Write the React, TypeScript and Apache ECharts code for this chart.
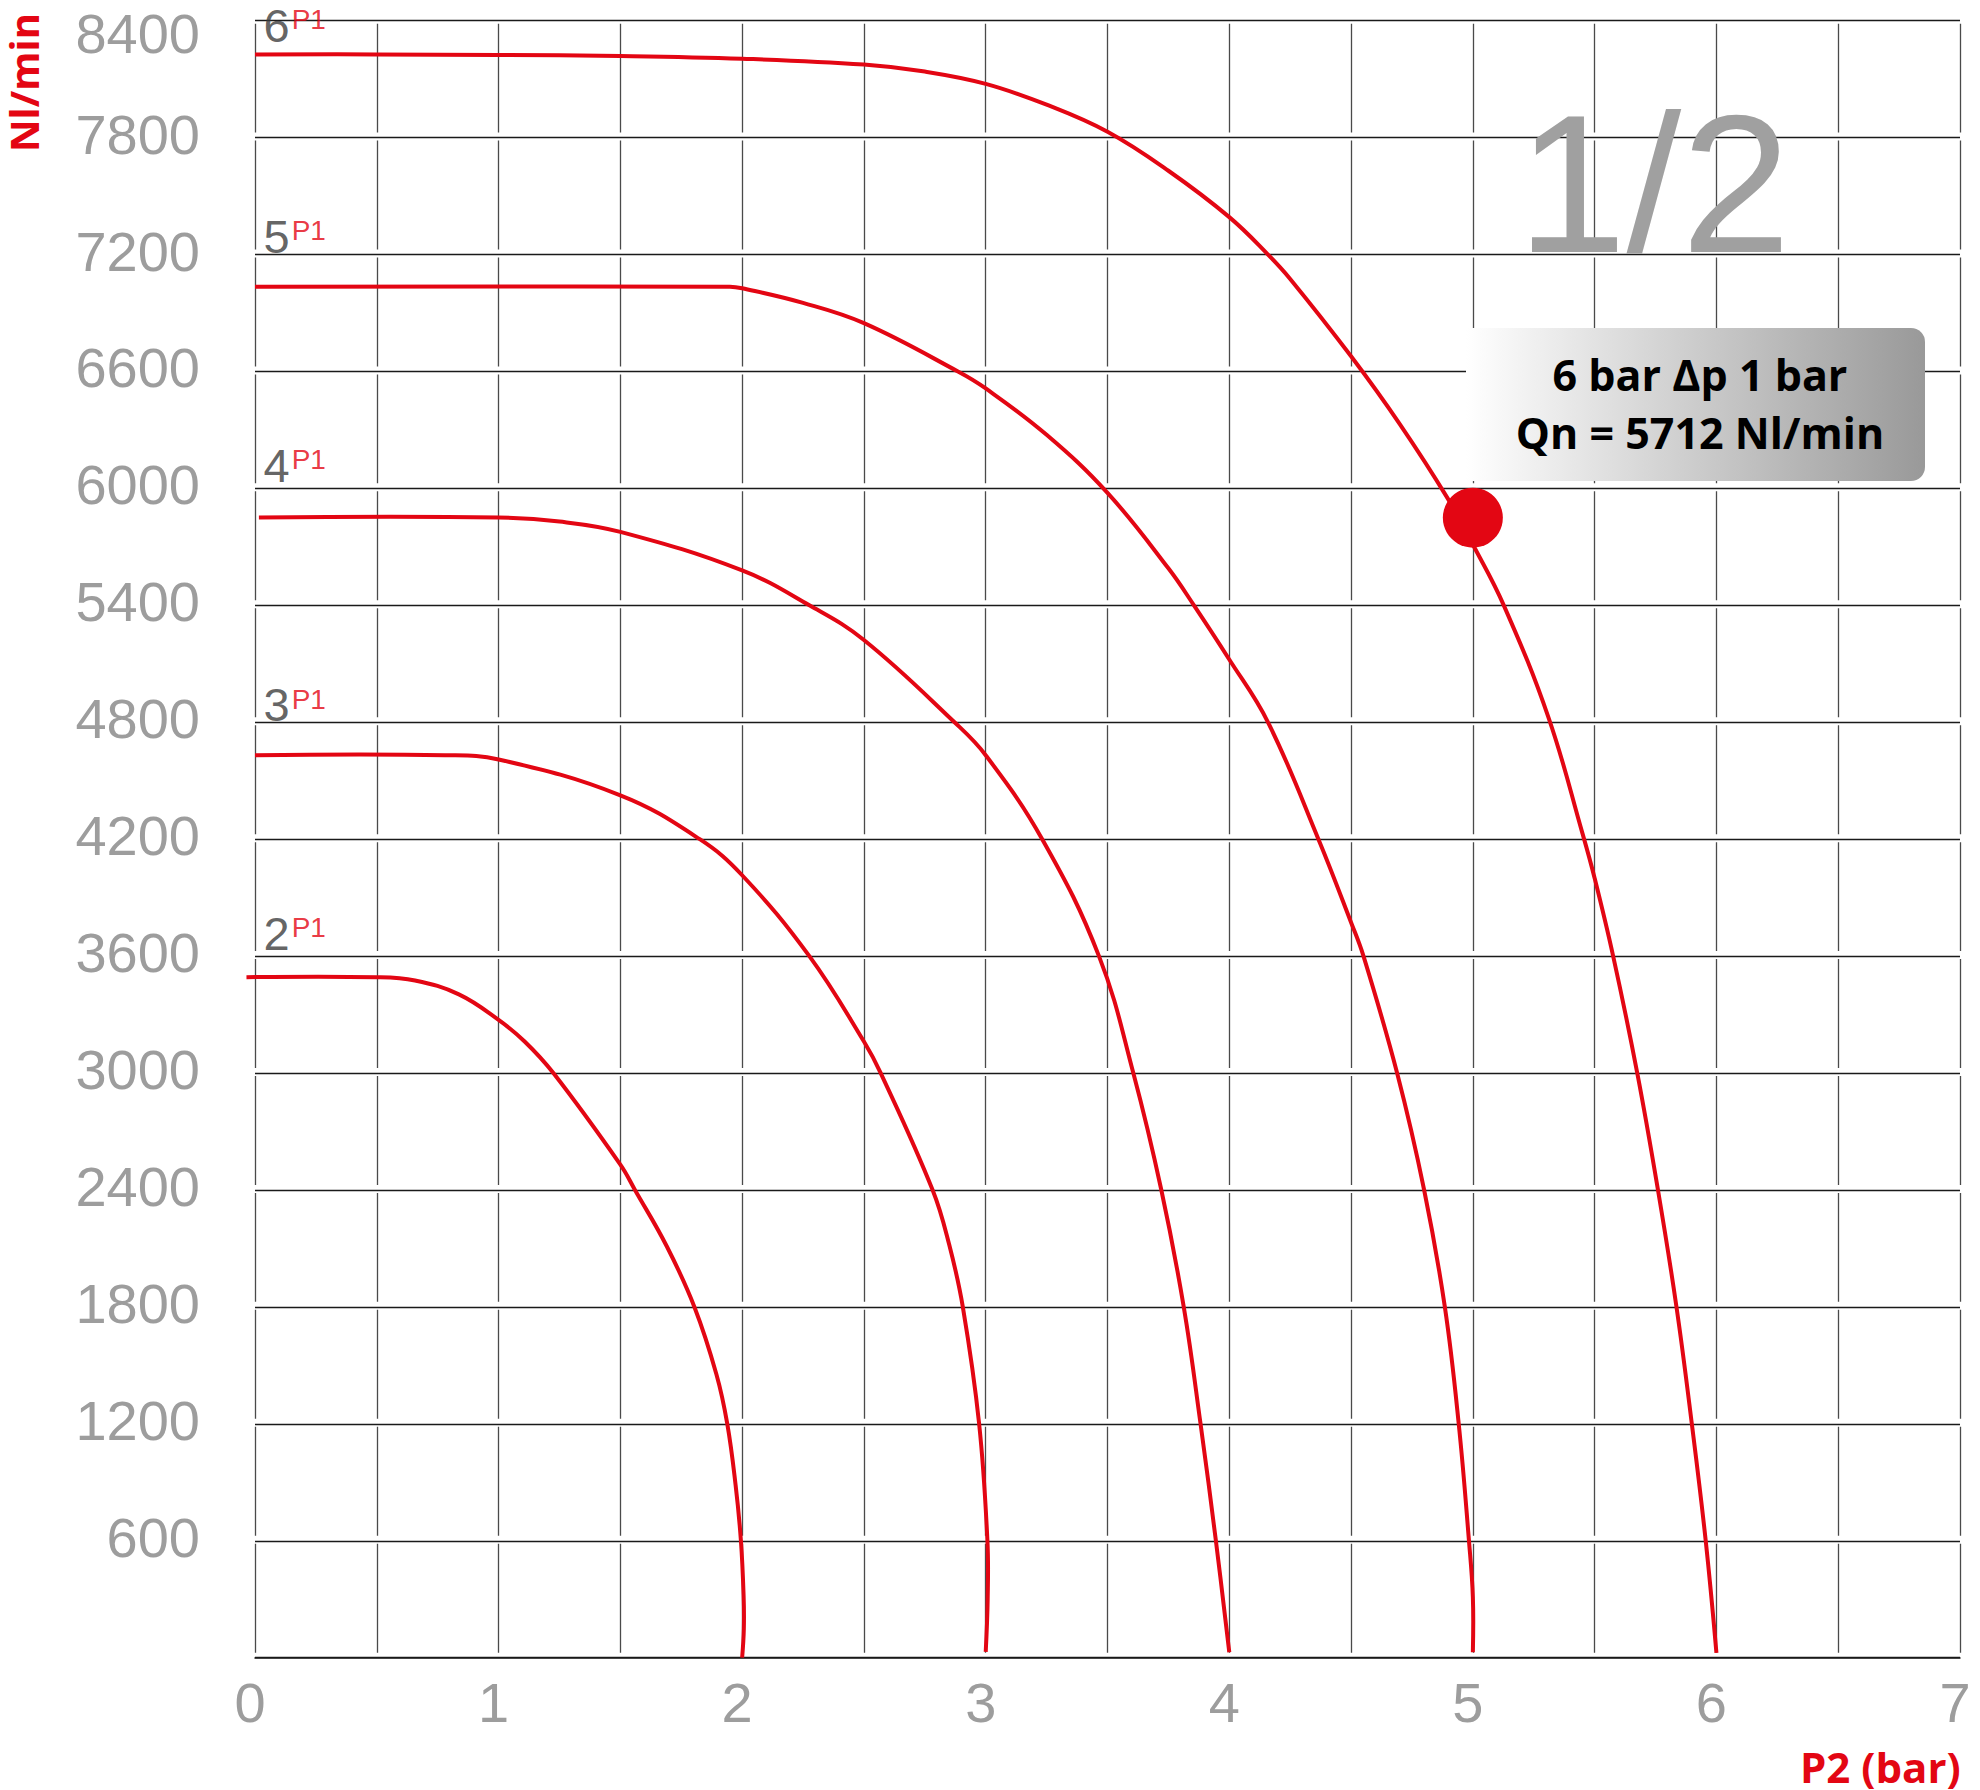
import React, { useEffect, useRef } from 'react';
import * as echarts from 'echarts';

const RED = '#e30613';
const GRAY_TXT = '#9d9d9d';
const NUM_FONT = '"Liberation Sans", Arial, sans-serif';
const BOLD_FONT = '"Open Sans", "Noto Sans", sans-serif';

// Axis ranges / ticks
const xMin = 0;
const xMax = 7;
const xStep = 0.5;
const yMin = 0;
const yMax = 8400;
const yStep = 600;

// Curves: P2 (bar) vs Qn (Nl/min), one per inlet pressure P1
const curveP1_2: [number, number][] = [
  [-0.035, 3492], [0.5, 3492], [0.657, 3475], [0.837, 3404], [1.0, 3273], [1.107, 3162],
  [1.225, 3000], [1.5, 2530], [1.56, 2400], [1.691, 2110], [1.804, 1800], [1.894, 1456],
  [1.939, 1200], [1.973, 887], [1.995, 600], [2.006, 318], [2.007, 150], [2.0, 0],
];
const curveP1_3: [number, number][] = [
  [0, 4631], [0.78, 4631], [1.0, 4609], [1.5, 4425], [1.826, 4200], [2.0, 4015],
  [2.276, 3600], [2.5, 3162], [2.569, 3000], [2.782, 2400], [2.85, 2120], [2.906, 1800],
  [2.973, 1200], [3.007, 600], [3.008, 300], [3.0, 30],
];
const curveP1_4: [number, number][] = [
  [0.016, 5851], [1.0, 5851], [1.25, 5830], [1.5, 5777], [2.0, 5579], [2.276, 5400],
  [2.5, 5222], [2.872, 4800], [3.0, 4631], [3.232, 4200], [3.465, 3600], [3.606, 3000],
  [3.721, 2400], [3.813, 1800], [3.882, 1200], [3.945, 600], [4.0, 28],
];
const curveP1_5: [number, number][] = [
  [0, 7035], [1.95, 7035], [2.0, 7027], [2.25, 6952], [2.5, 6848], [2.886, 6600],
  [3.0, 6513], [3.25, 6275], [3.5, 5977], [3.75, 5590], [3.855, 5400], [3.998, 5126],
  [4.159, 4800], [4.366, 4200], [4.5, 3773], [4.551, 3600], [4.689, 3000], [4.8, 2400],
  [4.885, 1800], [4.942, 1200], [4.984, 600], [5.0, 312], [5.0, 28],
];
const curveP1_6: [number, number][] = [
  [0, 8227], [0.5, 8227], [1.0, 8224], [1.5, 8219], [2.0, 8205], [2.5, 8175],
  [2.75, 8139], [3.0, 8076], [3.25, 7969], [3.5, 7830], [3.75, 7630], [4.0, 7392],
  [4.159, 7200], [4.25, 7075], [4.5, 6678], [4.7, 6330], [4.896, 5950], [5.0, 5712],
  [5.127, 5400], [5.311, 4823], [5.45, 4230], [5.5, 4000], [5.576, 3600], [5.675, 3000],
  [5.76, 2400], [5.836, 1800], [5.899, 1200], [5.956, 600], [6.0, 25],
];
const curves = [curveP1_2, curveP1_3, curveP1_4, curveP1_5, curveP1_6];

// Curve labels (P1 value) placed at the left of the chart
const curveNames = ['2', '3', '4', '5', '6'];
const curveLabelX = [0, 0, 0, 0, 0];
const curveLabelY = [3593, 4766, 5995, 7171, 8254];

// Highlighted operating point
const operatingPoint: [number, number] = [5, 5850];
const boxLine1 = '6 bar Δp 1 bar';
const boxLine2 = 'Qn = 5712 Nl/min';
const sizeText = '1/2';
const xName = 'P2 (bar)';
const yName = 'Nl/min';

export default function App() {
  const ref = useRef<HTMLDivElement>(null);

  useEffect(() => {
    if (!ref.current) return;
    const chart = echarts.init(ref.current, undefined, { renderer: 'svg' });

    // Each curve is drawn as one smooth polyline through its points (mapped by the axes' scales)
    const curveSeries = curves.map((data, i) => ({
      type: 'custom',
      name: 'P1 ' + curveNames[i],
      data,
      clip: false,
      z: 3,
      silent: true,
      encode: { x: 0, y: 1 },
      renderItem: (params: any, api: any) => {
        if (params.dataIndex !== 0) return null;
        const pts = data.map((d) => api.coord(d));
        return {
          type: 'polyline',
          shape: { points: pts, smooth: 0.4 },
          style: { stroke: RED, lineWidth: 4, fill: 'none', lineJoin: 'round', lineCap: 'butt' },
        };
      },
    }));

    chart.setOption({
      animation: false,
      backgroundColor: '#ffffff',
      grid: { left: 255, top: 20.7, width: 1705, height: 1637 },
      xAxis: {
        type: 'value',
        min: xMin,
        max: xMax,
        interval: xStep,
        axisLine: { show: true, lineStyle: { color: '#1a1a1a', width: 1.5 } },
        axisTick: { show: false },
        axisLabel: {
          formatter: (v: number) => (Number.isInteger(v) ? String(v) : ''),
          fontSize: 56,
          color: GRAY_TXT,
          fontFamily: NUM_FONT,
          margin: 17,
          padding: [0, 10, 0, 0],
        },
        splitLine: {
          show: true,
          lineStyle: { color: '#4a4a4a', width: 1.3, type: [108.93, 8], dashOffset: 113.93 },
        },
      },
      yAxis: {
        type: 'value',
        min: yMin,
        max: yMax,
        interval: yStep,
        axisLine: { show: false },
        axisTick: { show: false },
        axisLabel: {
          formatter: (v: number) => (v === yMin ? '' : v === yMax ? '{t|' + v + '}' : String(v)),
          fontSize: 56,
          color: GRAY_TXT,
          fontFamily: NUM_FONT,
          margin: 55,
          padding: [0, 0, 7, 0],
          rich: {
            t: { fontSize: 56, color: GRAY_TXT, fontFamily: NUM_FONT, padding: [32, 0, 0, 0] },
          },
        },
        splitLine: { show: true, lineStyle: { color: '#1a1a1a', width: 1.3 } },
      },
      series: [
        ...curveSeries,
        {
          type: 'scatter',
          name: 'labels',
          data: curveNames.map((n, i) => [curveLabelX[i], curveLabelY[i], n]),
          symbolSize: 1,
          itemStyle: { color: 'rgba(0,0,0,0)' },
          z: 4,
          emphasis: { disabled: true },
          label: {
            show: true,
            position: [9, 0],
            align: 'left',
            verticalAlign: 'bottom',
            formatter: (p: any) => '{n|' + p.value[2] + '}{p|P1}',
            rich: {
              n: { fontSize: 47, lineHeight: 47, color: '#3c3c3c', fontFamily: NUM_FONT, verticalAlign: 'bottom' },
              p: { fontSize: 28, lineHeight: 28, color: RED, fontFamily: NUM_FONT, verticalAlign: 'top', padding: [4, 0, 0, 2] },
            },
          },
        },
        {
          type: 'scatter',
          name: 'point',
          data: [operatingPoint],
          symbol: 'circle',
          symbolSize: 60,
          itemStyle: { color: RED, opacity: 1 },
          z: 5,
          emphasis: { disabled: true },
        },
      ],
      graphic: [
        {
          type: 'rect',
          z: 100,
          shape: { x: 1466, y: 328, width: 459, height: 153, r: [0, 14, 14, 0] },
          style: {
            fill: new echarts.graphic.LinearGradient(0, 0, 1, 0, [
              { offset: 0, color: '#ffffff' },
              { offset: 1, color: '#999999' },
            ]),
          },
        },
        {
          type: 'text',
          z: 101,
          x: 1700,
          y: 374,
          style: {
            text: boxLine1,
            fontSize: 43,
            fontWeight: 'bold',
            fontFamily: BOLD_FONT,
            fill: '#000000',
            align: 'center',
            verticalAlign: 'middle',
            textAlign: 'center',
            textVerticalAlign: 'middle',
          },
        },
        {
          type: 'text',
          z: 101,
          x: 1700,
          y: 432,
          style: {
            text: boxLine2,
            fontSize: 43,
            fontWeight: 'bold',
            fontFamily: BOLD_FONT,
            fill: '#000000',
            align: 'center',
            verticalAlign: 'middle',
            textAlign: 'center',
            textVerticalAlign: 'middle',
          },
        },
        {
          type: 'text',
          z: 100,
          x: 1517,
          y: 184,
          style: {
            text: sizeText,
            fontSize: 197,
            fontFamily: NUM_FONT,
            fill: '#a0a0a0',
            align: 'left',
            verticalAlign: 'middle',
            textAlign: 'left',
            textVerticalAlign: 'middle',
          },
        },
        {
          type: 'text',
          z: 100,
          x: 1800,
          y: 1766,
          style: {
            text: xName,
            fontSize: 42,
            fontWeight: 'bold',
            fontFamily: BOLD_FONT,
            fill: RED,
            align: 'left',
            verticalAlign: 'middle',
            textAlign: 'left',
            textVerticalAlign: 'middle',
          },
        },
        {
          type: 'text',
          z: 100,
          x: 23,
          y: 152,
          rotation: Math.PI / 2,
          style: {
            text: yName,
            fontSize: 40,
            fontWeight: 'bold',
            fontFamily: BOLD_FONT,
            fill: RED,
            align: 'left',
            verticalAlign: 'middle',
            textAlign: 'left',
            textVerticalAlign: 'middle',
          },
        },
      ],
    });

    return () => {
      chart.dispose();
    };
  }, []);

  return (
    <div
      ref={ref}
      style={{ position: 'absolute', left: 0, top: 0, width: 1980, height: 1790, background: '#fff' }}
    />
  );
}
